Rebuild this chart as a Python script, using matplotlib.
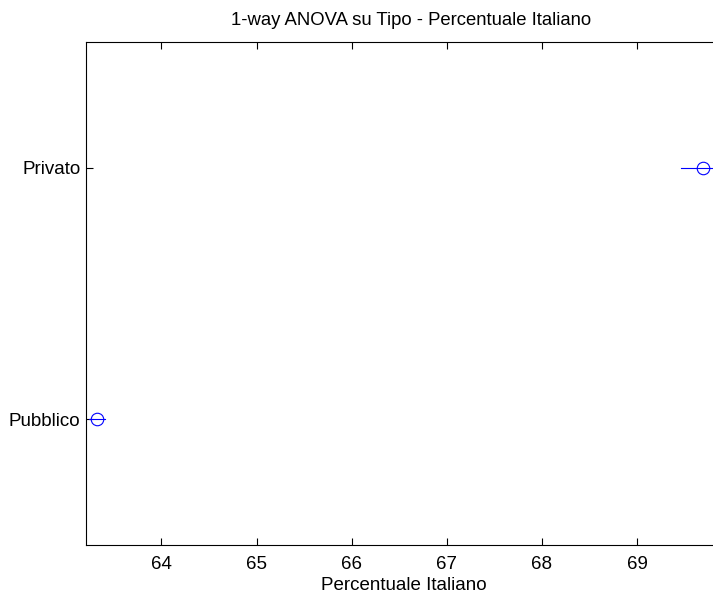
import matplotlib
matplotlib.use("Agg")
import matplotlib.pyplot as plt

plt.rcParams['font.family'] = ['Liberation Sans', 'DejaVu Sans']

groups = ["Pubblico", "Privato"]
means = [63.325, 69.694]
half_widths = [0.085, 0.227]
xticks = [64, 65, 66, 67, 68, 69]
xlim = (63.207, 70.04)

fig = plt.figure(figsize=(7.13, 5.94), dpi=100)
ax = fig.add_axes([86/713, 49/594, 650/713, 503/594])

ypos = list(range(1, len(groups) + 1))
for y, m, h in zip(ypos, means, half_widths):
    ax.plot([m - h, m + h], [y, y], color='blue', lw=0.8)
    ax.plot([m], [y], marker='o', mfc='none', mec='blue', ms=9, mew=0.8)

ax.set_xlim(*xlim)
ax.set_ylim(0.5, len(groups) + 0.5)
ax.set_xticks(xticks)
ax.set_xticklabels([str(t) for t in xticks])
ax.set_yticks(ypos)
ax.set_yticklabels(groups)
ax.tick_params(direction='in', top=True, right=True, length=5, width=0.8,
               labelsize=13.5, colors='black')
ax.tick_params(axis='x', pad=8)
ax.tick_params(axis='y', pad=4)
for s in ax.spines.values():
    s.set_linewidth(0.8)
ax.set_xlabel("Percentuale Italiano", fontsize=13.5)
ax.xaxis.set_label_coords(0.489, -0.063)
ax.set_title("1-way ANOVA su Tipo - Percentuale Italiano", fontsize=13.3, pad=12)

fig.savefig("out.png", dpi=100)
